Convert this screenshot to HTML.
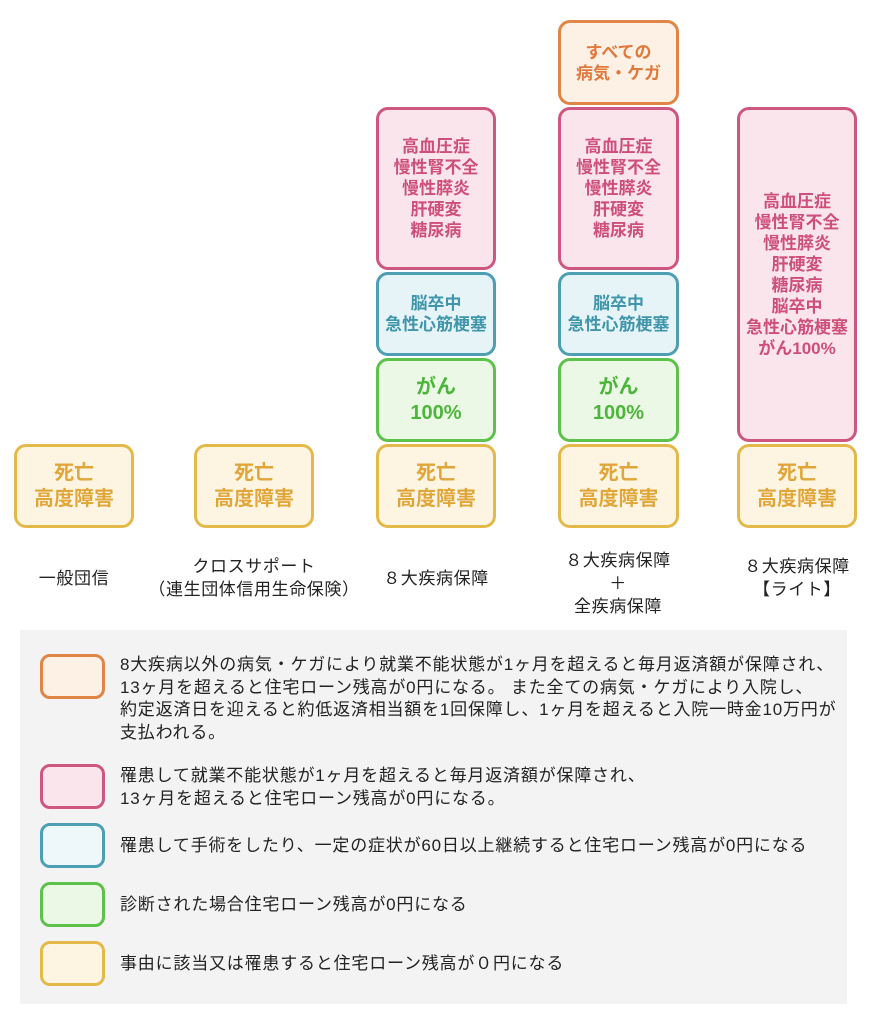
<!DOCTYPE html><html><head><meta charset="utf-8"><style>
body{margin:0;width:877px;height:1024px;background:#fff;font-family:"Liberation Sans","Noto Sans CJK JP",sans-serif;position:relative;overflow:hidden}
.b{position:absolute;box-sizing:border-box;border:3px solid;border-radius:12px;display:flex;align-items:center;justify-content:center;text-align:center;font-weight:bold;font-size:17px;line-height:21px}
.o{border-color:#e08545;background:#fdf1e6;color:#e07a3c}
.p{border-color:#cd5780;background:#fbe5ed;color:#cd4f7a}
.c{border-color:#4d9fb3;background:#e6f3f7;color:#3f95aa}
.g{border-color:#5cc24a;background:#ecf8e6;color:#4cb63a}
.y{border-color:#e3b94a;background:#fdf5e1;color:#e0a63a}
.d{font-size:20px;line-height:26px}
.l{position:absolute;text-align:center;font-size:17px;letter-spacing:0.6px;line-height:23px;color:#222;width:240px}
.lg{position:absolute;left:20px;top:630px;width:827px;height:374px;background:#f3f3f3}
.s{position:absolute;left:40px;width:65px;height:45px;box-sizing:border-box;border:3px solid;border-radius:10px}
.t{position:absolute;left:120px;font-size:17px;letter-spacing:0.8px;line-height:22.5px;color:#222;white-space:nowrap}
</style></head><body>
<div class="b y d" style="left:14px;top:444px;width:120px;height:84px">死亡<br>高度障害</div>
<div class="b y d" style="left:194px;top:444px;width:120px;height:84px">死亡<br>高度障害</div>
<div class="b p" style="left:376px;top:107px;width:120px;height:163px">高血圧症<br>慢性腎不全<br>慢性膵炎<br>肝硬変<br>糖尿病</div>
<div class="b c" style="left:376px;top:272px;width:120px;height:84px">脳卒中<br>急性心筋梗塞</div>
<div class="b g d" style="left:376px;top:358px;width:120px;height:84px">がん<br>100%</div>
<div class="b y d" style="left:376px;top:444px;width:120px;height:84px">死亡<br>高度障害</div>
<div class="b o" style="left:558px;top:20px;width:121px;height:85px">すべての<br>病気・ケガ</div>
<div class="b p" style="left:558px;top:107px;width:121px;height:163px">高血圧症<br>慢性腎不全<br>慢性膵炎<br>肝硬変<br>糖尿病</div>
<div class="b c" style="left:558px;top:272px;width:121px;height:84px">脳卒中<br>急性心筋梗塞</div>
<div class="b g d" style="left:558px;top:358px;width:121px;height:84px">がん<br>100%</div>
<div class="b y d" style="left:558px;top:444px;width:121px;height:84px">死亡<br>高度障害</div>
<div class="b p" style="left:737px;top:107px;width:120px;height:335px">高血圧症<br>慢性腎不全<br>慢性膵炎<br>肝硬変<br>糖尿病<br>脳卒中<br>急性心筋梗塞<br>がん100%</div>
<div class="b y d" style="left:737px;top:444px;width:120px;height:84px">死亡<br>高度障害</div>
<div class="l" style="left:-46px;top:567px">一般団信</div>
<div class="l" style="left:134px;top:555px">クロスサポート<br>（連生団体信用生命保険）</div>
<div class="l" style="left:316px;top:567px">８大疾病保障</div>
<div class="l" style="left:498px;top:549px">８大疾病保障<br>＋<br>全疾病保障</div>
<div class="l" style="left:677px;top:555px">８大疾病保障<br>【ライト】</div>
<div class="lg"></div>
<div class="s" style="top:654px;border-color:#e08545;background:#fdf1e6"></div>
<div class="t" style="top:654px">8大疾病以外の病気・ケガにより就業不能状態が1ヶ月を超えると毎月返済額が保障され、<br>13ヶ月を超えると住宅ローン残高が0円になる。 また全ての病気・ケガにより入院し、<br>約定返済日を迎えると約低返済相当額を1回保障し、1ヶ月を超えると入院一時金10万円が<br>支払われる。</div>
<div class="s" style="top:764px;border-color:#cd5780;background:#fbe5ed"></div>
<div class="t" style="top:765px">罹患して就業不能状態が1ヶ月を超えると毎月返済額が保障され、<br>13ヶ月を超えると住宅ローン残高が0円になる。</div>
<div class="s" style="top:823px;border-color:#4d9fb3;background:#eef8fb"></div>
<div class="t" style="top:835px">罹患して手術をしたり、一定の症状が60日以上継続すると住宅ローン残高が0円になる</div>
<div class="s" style="top:882px;border-color:#5cc24a;background:#ecf8e6"></div>
<div class="t" style="top:894px">診断された場合住宅ローン残高が0円になる</div>
<div class="s" style="top:941px;border-color:#e3b94a;background:#fdf5e1"></div>
<div class="t" style="top:953px">事由に該当又は罹患すると住宅ローン残高が０円になる</div>
</body></html>
